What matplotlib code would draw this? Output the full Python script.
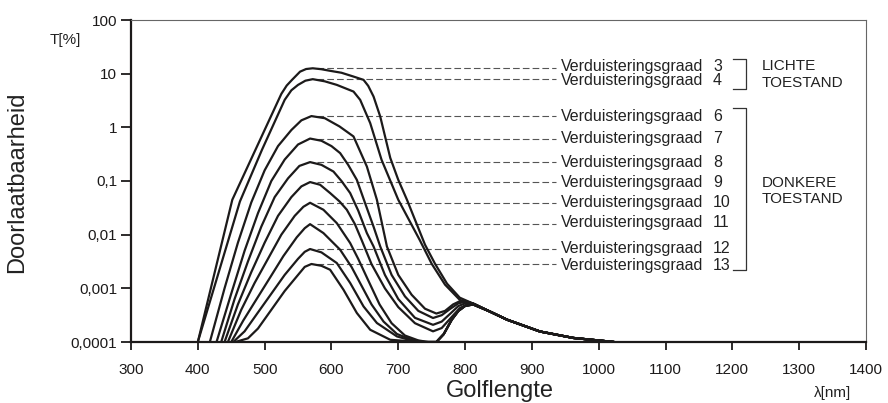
import matplotlib
matplotlib.use('Agg')
import matplotlib.pyplot as plt
from matplotlib.ticker import FixedLocator, NullLocator

plt.rcParams['font.family'] = ['Liberation Sans', 'DejaVu Sans']

# transmission spectra T[%] against wavelength [nm], one per darkening level
wl_3 = [400, 451.6, 525, 533, 541, 553, 562, 572, 585, 598, 615, 633, 648,
        655, 663, 673, 688, 700, 713, 740, 755, 773, 792, 812]
t_3 = [1e-4, 0.0447, 4.2, 6.0, 7.67, 10.9, 12.2, 12.6, 12.1, 11.3, 10.4,
       8.83, 7.67, 5.93, 3.75, 1.59, 0.27, 0.105, 0.0447, 0.0065, 0.00287,
       0.00122, 0.00067, 0.00052]

wl_4 = [400, 463, 496, 530, 540, 550, 561, 572, 590, 608, 633, 643, 658,
        675, 700, 732, 750, 770, 792, 812]
t_4 = [1e-4, 0.0415, 0.381, 3.25, 4.9, 6.18, 7.4, 7.9, 7.2, 6.18, 4.64,
       3.25, 1.2, 0.248, 0.0447, 0.008, 0.00287, 0.00117, 0.00061, 0.00052]

wl_6 = [418, 440, 460, 480, 500, 520, 540, 555, 570, 590, 612, 633, 653,
        668, 683, 700, 720, 740, 757, 770, 782, 792, 802, 812]
t_6 = [1e-4, 0.001, 0.00708, 0.0398, 0.158, 0.447, 0.891, 1.35, 1.62, 1.48,
       1.04, 0.676, 0.186, 0.0447, 0.00603, 0.00178, 0.000759, 0.000417,
       0.000339, 0.00038, 0.000501, 0.000575, 0.000575, 0.000513]

wl_7 = [428, 450, 470, 490, 510, 530, 550, 568, 585, 600, 613, 625, 638,
        650, 663, 673, 690, 710, 730, 752, 765, 778, 790, 800, 812]
t_7 = [1e-4, 0.000794, 0.00501, 0.0251, 0.1, 0.251, 0.479, 0.618, 0.562,
       0.447, 0.331, 0.2, 0.105, 0.0398, 0.0141, 0.00603, 0.00178, 0.000708,
       0.00038, 0.00028, 0.000316, 0.000417, 0.000525, 0.000562, 0.000525]

wl_8 = [435, 455, 475, 495, 515, 535, 552, 568, 585, 603, 615, 628, 640,
        653, 663, 680, 700, 725, 752, 765, 778, 790, 802, 812]
t_8 = [1e-4, 0.000631, 0.00316, 0.0141, 0.0501, 0.112, 0.191, 0.225, 0.2,
       0.15, 0.1, 0.0596, 0.0282, 0.0107, 0.00603, 0.00178, 0.000631,
       0.000282, 0.000209, 0.00024, 0.000339, 0.000468, 0.000537, 0.000513]

wl_9 = [440, 460, 480, 500, 520, 540, 555, 568, 583, 598, 612, 623, 635,
        645, 660, 680, 700, 725, 752, 765, 778, 792, 805, 815]
t_9 = [1e-4, 0.000501, 0.002, 0.00708, 0.0224, 0.0501, 0.0794, 0.0955,
       0.0851, 0.0596, 0.0417, 0.0291, 0.0158, 0.00804, 0.00282, 0.001,
       0.000447, 0.000224, 0.000158, 0.000182, 0.000275, 0.000427, 0.000513,
       0.000501]

wl_10 = [445, 465, 485, 505, 525, 545, 558, 568, 588, 608, 628, 640, 655,
         672, 690, 710, 730, 745]
t_10 = [1e-4, 0.000398, 0.00126, 0.00355, 0.01, 0.0224, 0.0331, 0.0393,
        0.0291, 0.0164, 0.00698, 0.00355, 0.00141, 0.000501, 0.000224,
        0.000132, 0.000107, 1e-4]

wl_11 = [450, 468, 488, 508, 528, 548, 560, 568, 588, 613, 630, 645, 660,
         678, 698, 720, 740]
t_11 = [1e-4, 0.000251, 0.000631, 0.00158, 0.00398, 0.00891, 0.0132, 0.0157,
        0.0107, 0.00524, 0.00251, 0.00112, 0.000501, 0.00024, 0.000141,
        0.00011, 1e-4]

wl_12 = [453, 470, 490, 510, 530, 550, 560, 568, 585, 608, 628, 648, 668,
         698, 728]
t_12 = [1e-4, 0.000158, 0.000355, 0.000794, 0.00178, 0.00355, 0.00479,
        0.0054, 0.00468, 0.00296, 0.00126, 0.00046, 0.000226, 0.000127, 1e-4]

wl_13 = [456, 475, 490, 510, 530, 550, 560, 570, 585, 598, 618, 638, 658,
         688, 732]
t_13 = [1e-4, 0.000117, 0.000178, 0.000398, 0.000891, 0.00178, 0.00251,
        0.00284, 0.00263, 0.00222, 0.000942, 0.000347, 0.000169, 0.00011, 1e-4]

# levels 10-13 come back off the floor into the near-IR bump together
wl_rebound = [757, 768, 780, 790, 800, 812]
t_rebound = [1e-4, 0.00014, 0.00026, 0.00038, 0.00047, 0.0005]

# common IR tail shared by every level
wl_tail = [837, 863, 912, 962, 1023]
t_tail = [0.00037, 0.00026, 0.000157, 0.000119, 1e-4]

levels = [3, 4, 6, 7, 8, 9, 10, 11, 12, 13]
peak_t = [12.6, 7.9, 1.62, 0.618, 0.225, 0.0955, 0.0393, 0.0157, 0.0054, 0.00284]
# label rows sit a little apart where two leaders are close together
label_t = [13.8, 7.4, 1.6, 0.618, 0.225, 0.0955, 0.0393, 0.0165, 0.0056, 0.0027]
label_text = 'Verduisteringsgraad'

yticks = [1e-4, 1e-3, 1e-2, 1e-1, 1, 10, 100]
ytick_labels = ['0,0001', '0,001', '0,01', '0,1', '1', '10', '100']
xticks = list(range(300, 1401, 100))

curves = [(wl_3, t_3), (wl_4, t_4), (wl_6, t_6), (wl_7, t_7), (wl_8, t_8),
          (wl_9, t_9),
          (wl_10 + wl_rebound, t_10 + t_rebound),
          (wl_11 + wl_rebound, t_11 + t_rebound),
          (wl_12 + wl_rebound, t_12 + t_rebound),
          (wl_13 + wl_rebound, t_13 + t_rebound)]

ink = '#1c1a1a'
fig = plt.figure(figsize=(8.88, 4.03), dpi=100)
ax = fig.add_axes([131 / 888, 61 / 403, 735 / 888, 322 / 403])
ax.set_yscale('log')
ax.set_xlim(300, 1400)
ax.set_ylim(1e-4, 100)

for wl, t in curves:
    ax.plot(wl + wl_tail, t + t_tail, color=ink, lw=1.6,
            solid_joinstyle='round', solid_capstyle='round', zorder=3)

# leader lines and labels
for lev, pk, ly in zip(levels, peak_t, label_t):
    ax.plot([578, 936], [pk, pk], color='#555555', lw=0.8,
            linestyle=(0, (6, 2.8)), zorder=2)
    ax.text(944, ly, label_text, fontsize=11.5, color='#222222',
            va='center', ha='left')
    ax.text(1171, ly, str(lev), fontsize=11.5, color='#222222',
            va='center', ha='left')

# state brackets
ax.plot([1201, 1220, 1220, 1201], [18.9, 18.9, 5.14, 5.14],
        color='#333333', lw=0.9)
ax.plot([1201, 1220, 1220, 1201], [2.34, 2.34, 0.00215, 0.00215],
        color='#333333', lw=0.9)
ax.text(1244, 9.8, 'LICHTE\nTOESTAND', fontsize=11, color='#222222',
        va='center', ha='left', linespacing=1.25)
ax.text(1244, 0.065, 'DONKERE\nTOESTAND', fontsize=11, color='#222222',
        va='center', ha='left', linespacing=1.25)

ax.yaxis.set_major_locator(FixedLocator(yticks))
ax.yaxis.set_minor_locator(NullLocator())
ax.set_yticklabels(ytick_labels)
ax.set_xticks(xticks)
ax.tick_params(axis='both', direction='out', labelsize=11, colors=ink,
               width=1.3)
ax.tick_params(axis='y', length=7, pad=3)
ax.tick_params(axis='x', length=6, pad=9)

for side in ('left', 'bottom'):
    ax.spines[side].set_linewidth(1.6)
    ax.spines[side].set_color(ink)
for side in ('top', 'right'):
    ax.spines[side].set_linewidth(0.8)
    ax.spines[side].set_color('#666666')

fig.text(17 / 888, 1 - 182 / 403, 'Doorlaatbaarheid', rotation=90,
         fontsize=17, ha='center', va='center', color='#222222')
fig.text(500 / 888, 1 - 391 / 403, 'Golflengte', fontsize=17,
         ha='center', va='center', color='#222222')
fig.text(65 / 888, 1 - 40 / 403, 'T[%]', fontsize=11, ha='center',
         va='center', color='#222222')
fig.text(833 / 888, 1 - 393 / 403, 'λ[nm]', fontsize=11, ha='center',
         va='center', color='#222222')

fig.savefig('out.png', dpi=100)
